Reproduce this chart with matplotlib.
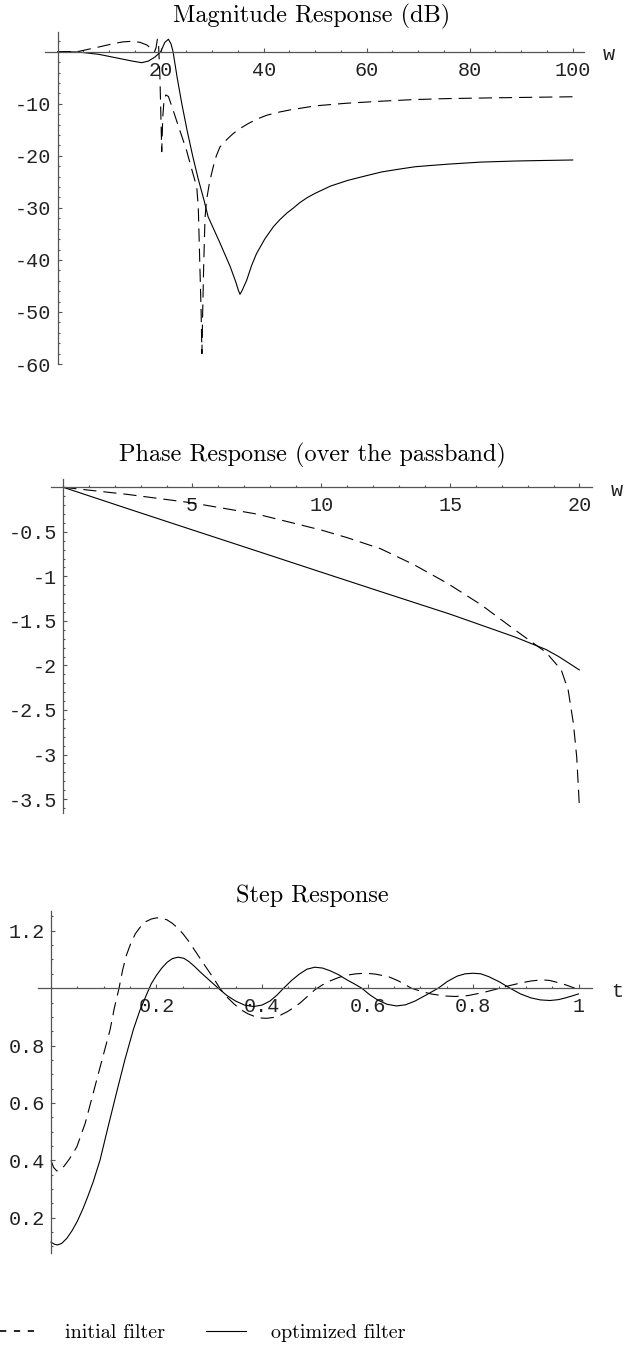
import matplotlib
matplotlib.use('Agg')
import matplotlib.pyplot as plt
from matplotlib.lines import Line2D
from matplotlib.ticker import FixedLocator, MultipleLocator, FuncFormatter

# Magnitude response (dB) over w
mag_w_init = [0, 4, 8.2, 11, 12.7, 14.4, 16, 17.3, 18.2, 18.8, 19.1, 19.35, 19.6, 19.85, 20.05, 20.2,
              20.4, 20.65, 21.0, 21.5, 22.4, 23.5, 25, 26, 27, 27.3, 27.6, 27.85, 28.0, 28.15, 28.35,
              28.6, 28.9, 29.5, 30.2, 30.8, 31.5, 32.8, 34.1, 35.5, 37, 38.8, 40.6, 43, 45, 47.5, 50,
              56, 62.9, 69, 75.8, 82, 88.8, 100]
mag_db_init = [0, 0.05, 0.96, 1.6, 1.9, 2.0, 1.8, 1.3, 0.6, 0.0, 0.8, 2.4, 1.0, -5, -13, -19.2,
               -12.5, -9.3, -8.3, -8.6, -11.2, -14.5, -18.9, -22.5, -26, -30, -41, -50, -58, -50, -41,
               -32, -28.5, -25, -22.1, -20.0, -18.3, -16.9, -15.7, -14.7, -13.8, -12.9, -12.2, -11.6, -11.2, -10.8, -10.4,
               -9.9, -9.5, -9.2, -9.0, -8.9, -8.8, -8.65]

mag_w_opt = [0, 4, 8, 12, 14.5, 16.3, 17.6, 18.9, 20, 20.8, 21.5, 22.0, 22.4, 23.2, 24.1, 25.1, 26.2,
             27.3, 28.4, 29.2, 31.4, 33.5, 34.6, 35.1, 35.4, 35.8, 36.7, 37.6, 38.6, 40.2, 41.9, 43.2,
             44.5, 45.8, 47, 48.5, 50, 53, 56.4, 60, 62.9, 66, 69.4, 72.5, 75.8, 79, 82.3, 88.8, 94, 100]
mag_db_opt = [0, -0.05, -0.5, -1.3, -1.8, -2.1, -1.8, -1.0, 0, 1.8, 2.4, 1.5, 0, -5, -10, -15, -20,
              -24.5, -28.5, -31.7, -36.5, -41.3, -44.3, -45.9, -46.6, -45.9, -43.9, -41.2, -38.8, -36.0, -33.6, -32.2,
              -31.0, -30.0, -29.0, -28.0, -27.2, -25.8, -24.7, -23.8, -23.1, -22.6, -22.1, -21.85, -21.6, -21.4,
              -21.2, -21.0, -20.9, -20.8]

# Phase response over the passband
phase_w_init = [0, 2.5, 5, 7.5, 10, 11, 12.3, 13.6, 14.9, 16.2, 17.5, 18.7, 19.3, 19.57, 19.77, 19.9, 20]
phase_init = [0, -0.08, -0.175, -0.30, -0.48, -0.565, -0.69, -0.87, -1.08, -1.32, -1.60, -1.85, -2.05,
              -2.28, -2.65, -3.03, -3.57]

phase_w_opt = [0, 2.5, 5, 7.5, 10, 12.5, 15, 17.5, 18.7, 19.2, 20]
phase_opt = [0, -0.24, -0.478, -0.715, -0.953, -1.19, -1.425, -1.68, -1.82, -1.90, -2.05]

# Step response
step_t_init = [0, 0.005, 0.011, 0.018, 0.025, 0.035, 0.049, 0.065, 0.08, 0.096, 0.112, 0.12, 0.129, 0.136,
               0.143, 0.151, 0.16, 0.17, 0.18, 0.19, 0.2, 0.21, 0.22, 0.23, 0.24, 0.25, 0.26, 0.275, 0.285,
               0.295, 0.308, 0.32, 0.333, 0.347, 0.36, 0.373, 0.385, 0.397, 0.409, 0.422, 0.435, 0.448,
               0.46, 0.472, 0.486, 0.5, 0.515, 0.53, 0.545, 0.56, 0.578, 0.596, 0.615, 0.64, 0.66, 0.683,
               0.7, 0.72, 0.745, 0.766, 0.79, 0.82, 0.845, 0.867, 0.89, 0.91, 0.93, 0.945, 0.96, 0.975, 0.993]
step_init = [0.40, 0.375, 0.363, 0.366, 0.38, 0.405, 0.447, 0.53, 0.634, 0.745, 0.855, 0.93, 1.0, 1.065,
             1.115, 1.155, 1.19, 1.215, 1.232, 1.241, 1.245, 1.244, 1.238, 1.226, 1.21, 1.19, 1.166, 1.125, 1.097,
             1.07, 1.035, 1.0, 0.97, 0.945, 0.925, 0.911, 0.902, 0.896, 0.895, 0.898, 0.906, 0.918,
             0.932, 0.948, 0.971, 0.994, 1.012, 1.026, 1.037, 1.045, 1.05, 1.052, 1.049, 1.04, 1.024, 1.0,
             0.99, 0.98, 0.973, 0.971, 0.974, 0.985, 0.997, 1.008, 1.018, 1.025, 1.029, 1.027, 1.02, 1.012, 1.0]

step_t_opt = [0, 0.006, 0.012, 0.02, 0.03, 0.04, 0.05, 0.061, 0.07, 0.08, 0.093, 0.108, 0.124, 0.14, 0.156,
              0.168, 0.181, 0.19, 0.2, 0.21, 0.22, 0.23, 0.241, 0.252, 0.262, 0.272, 0.282, 0.3, 0.317,
              0.333, 0.35, 0.367, 0.384, 0.4, 0.415, 0.428, 0.441, 0.455, 0.47, 0.485, 0.5, 0.515, 0.53,
              0.545, 0.56, 0.575, 0.589, 0.605, 0.62, 0.637, 0.655, 0.672, 0.69, 0.712, 0.734, 0.752,
              0.77, 0.785, 0.8, 0.815, 0.83, 0.85, 0.87, 0.89, 0.91, 0.928, 0.946, 0.962, 0.975, 0.988, 1.0]
step_opt = [0.115, 0.108, 0.105, 0.11, 0.128, 0.155, 0.188, 0.233, 0.275, 0.325, 0.401, 0.515, 0.634, 0.75,
            0.855, 0.92, 0.977, 1.015, 1.045, 1.07, 1.09, 1.103, 1.108, 1.104, 1.092, 1.076, 1.058, 1.028, 1.0,
            0.975, 0.955, 0.941, 0.936, 0.941, 0.955, 0.975, 1.0, 1.025, 1.048, 1.066, 1.073, 1.07, 1.06,
            1.047, 1.03, 1.015, 1.0, 0.976, 0.958, 0.944, 0.938, 0.942, 0.955, 0.977, 1.0, 1.024,
            1.042, 1.05, 1.052, 1.05, 1.04, 1.022, 1.0, 0.98, 0.966, 0.959, 0.957, 0.96, 0.966, 0.973, 0.98]

titles = ['Magnitude Response (dB)', 'Phase Response (over the passband)', 'Step Response']
legend_labels = ['initial filter', 'optimized filter']

plt.rcParams['axes.unicode_minus'] = False
plt.rcParams['lines.scale_dashes'] = False

W, H = 629, 1346
fig = plt.figure(figsize=(W / 100, H / 100), dpi=100)

TICK_FONT = dict(family='Liberation Mono', size=14.5, color='#222222')
TITLE_FONT = dict(family='cmr10', size=17.5)
AXIS_GRAY = '#555555'
DASH = (9.5, 5)


def px_rect(left, top, right, bottom):
    return [left / W, 1 - bottom / H, (right - left) / W, (bottom - top) / H]


def style_axes(ax, xlim, ylim, origin_y, xmaj, xmin, ymaj, ymin, var):
    ax.set_xlim(*xlim)
    ax.set_ylim(*ylim)
    ax.patch.set_visible(False)
    for s in ['top', 'right']:
        ax.spines[s].set_visible(False)
    ax.spines['left'].set_position(('data', 0))
    ax.spines['bottom'].set_position(('data', origin_y))
    for s in ['left', 'bottom']:
        ax.spines[s].set_color(AXIS_GRAY)
        ax.spines[s].set_linewidth(0.9)
    ax.xaxis.set_major_locator(FixedLocator(xmaj))
    ax.xaxis.set_minor_locator(MultipleLocator(xmin))
    ax.yaxis.set_major_locator(FixedLocator(ymaj))
    ax.yaxis.set_minor_locator(MultipleLocator(ymin))
    fmt = FuncFormatter(lambda v, p: '%g' % v)
    ax.xaxis.set_major_formatter(fmt)
    ax.yaxis.set_major_formatter(fmt)
    ax.tick_params(which='both', direction='in', color=AXIS_GRAY, width=0.8,
                   labelcolor=TICK_FONT['color'])
    ax.tick_params(which='major', length=2.8)
    ax.tick_params(which='minor', length=1.4)
    ax.tick_params(axis='x', which='major', pad=6.5)
    ax.tick_params(axis='y', which='major', pad=4.5)
    for lab in ax.get_xticklabels() + ax.get_yticklabels():
        lab.set_fontfamily(TICK_FONT['family'])
        lab.set_fontsize(TICK_FONT['size'])
    ax.annotate(var, xy=(1, origin_y), xycoords=('axes fraction', 'data'),
                xytext=(25, -3), textcoords='offset pixels',
                ha='center', va='center', **TICK_FONT)


# Panel 1: magnitude
ax1 = fig.add_axes(px_rect(45, 31.7, 584, 364))
ax1.plot(mag_w_init, mag_db_init, color='k', lw=0.8, dashes=DASH)
ax1.plot(mag_w_opt, mag_db_opt, color='k', lw=0.8)
style_axes(ax1, (-2.47, 102.2), (-60, 3.85), 0,
           [20, 40, 60, 80, 100], 5, [-10, -20, -30, -40, -50, -60], 2, 'w')
fig.text(312 / W, 1 - 22.7 / H, titles[0], ha='center', va='baseline', **TITLE_FONT)

# Panel 2: phase
ax2 = fig.add_axes(px_rect(51, 479.3, 591.7, 813.3))
ax2.plot(phase_w_init, phase_init, color='k', lw=0.8, dashes=DASH)
ax2.plot(phase_w_opt, phase_opt, color='k', lw=0.8)
style_axes(ax2, (-0.477, 20.48), (-3.66, 0.09), 0,
           [5, 10, 15, 20], 1, [-0.5, -1, -1.5, -2, -2.5, -3, -3.5], 0.1, 'w')
fig.text(312 / W, 1 - 461.7 / H, titles[1], ha='center', va='baseline', **TITLE_FONT)

# Panel 3: step response
ax3 = fig.add_axes(px_rect(37.7, 910.7, 591.7, 1252.7))
ax3.plot(step_t_init, step_init, color='k', lw=0.8, dashes=DASH)
ax3.plot(step_t_opt, step_opt, color='k', lw=0.8)
style_axes(ax3, (-0.0252, 1.025), (0.078, 1.27), 1.0,
           [0.2, 0.4, 0.6, 0.8, 1], 0.05, [0.2, 0.4, 0.6, 0.8, 1.2], 0.05, 't')
fig.text(312 / W, 1 - 901.7 / H, titles[2], ha='center', va='baseline', **TITLE_FONT)

handles = [Line2D([], [], color='k', lw=1.2, dashes=(4.5, 5.5)),
           Line2D([], [], color='k', lw=0.8)]
fig.legend(handles, legend_labels, loc='center left', bbox_to_anchor=(0, 1 - 1333 / H),
           ncol=2, frameon=False, borderpad=0, borderaxespad=0, handlelength=2.0,
           handletextpad=1.25, columnspacing=2.0, prop=dict(family='cmr10', size=14.5))

fig.savefig('out.png', dpi=100)
